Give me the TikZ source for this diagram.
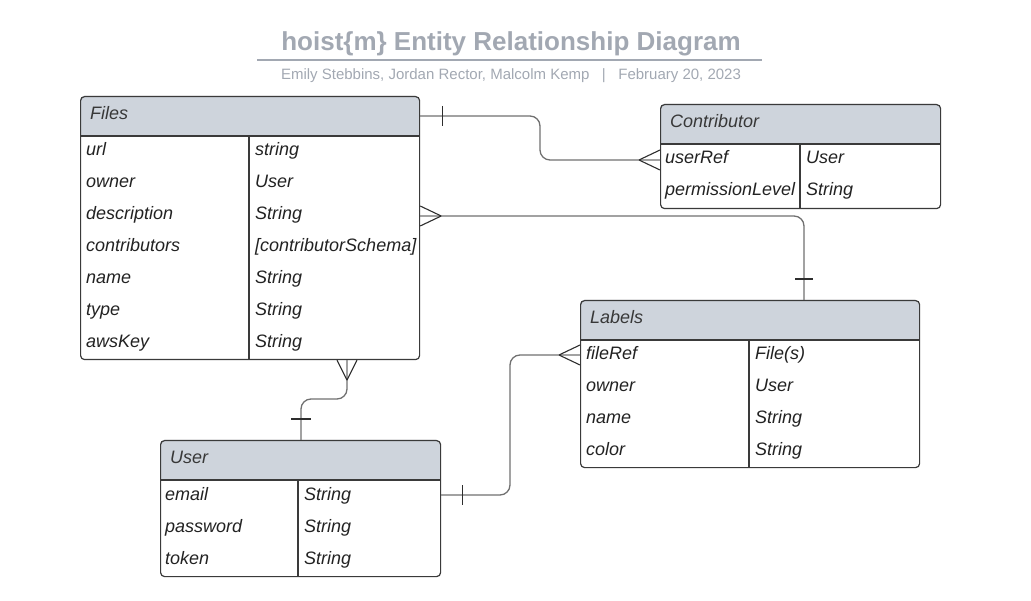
\documentclass[tikz,border=0pt]{standalone}
\usepackage{fontspec}
\setmainfont{Liberation Sans}
\definecolor{hdr}{HTML}{CED4DC}
\definecolor{bord}{HTML}{3A3A3A}
\definecolor{conn}{HTML}{707070}
\definecolor{mark}{HTML}{2E2E2E}
\definecolor{ttl}{HTML}{A2A8B2}
\definecolor{txt}{HTML}{222222}
\tikzset{
  tbox/.style={draw=bord, line width=1.2pt, rounded corners=4pt, anchor=north west, inner sep=0pt},
  cell/.style={anchor=base west, inner sep=0pt, font=\fontsize{18}{20}\selectfont\itshape, text=txt},
  hcell/.style={cell, text=txt!90},
  divline/.style={draw=bord, line width=1.1pt},
  connline/.style={draw=conn, line width=1.3pt, rounded corners=10pt},
  endmark/.style={draw=mark, line width=1.1pt},
}
\begin{document}
\begin{tikzpicture}[x=1pt,y=-1pt]
\useasboundingbox (0,0) rectangle (1031,601);
% Title
\node[anchor=base, inner sep=0pt, text=ttl, font=\fontsize{26}{30}\selectfont\bfseries] (title) at (511,51) {hoist\{m\} Entity Relationship Diagram};
\draw[draw=ttl, line width=2pt] (257,60) -- (762,60);
\node[anchor=base, inner sep=0pt, text=ttl, font=\fontsize{15}{18}\selectfont] (subtitle) at (511,80) {Emily Stebbins, Jordan Rector, Malcolm Kemp \ \ | \ \ February 20, 2023};

% ---------- Files ----------
\fill[hdr, rounded corners=4pt] (80,96) rectangle (419,136);
\fill[hdr] (80,126) rectangle (419,136);
\draw[divline] (80,136) -- (419,136);
\draw[divline] (249,136) -- (249,359);
\node[tbox, minimum width=339pt, minimum height=263pt] (files) at (80,96) {};
\node[hcell] (filesH) at (90,120) {Files};
\foreach \a/\b [count=\i from 0] in {url/string, owner/User, description/String, contributors/[contributorSchema], name/String, type/String, awsKey/String}{
  \node[cell] (filesA\i) at (86,156+32*\i) {\a};
  \node[cell] (filesB\i) at (255,156+32*\i) {\b};
}

% ---------- Contributor ----------
\fill[hdr, rounded corners=4pt] (660,104) rectangle (940,144);
\fill[hdr] (660,134) rectangle (940,144);
\draw[divline] (660,144) -- (940,144);
\draw[divline] (800,144) -- (800,208);
\node[tbox, minimum width=280pt, minimum height=104pt] (contrib) at (660,104) {};
\node[hcell] (contribH) at (670,128) {Contributor};
\foreach \a/\b [count=\i from 0] in {userRef/User, permissionLevel/String}{
  \node[cell] (contribA\i) at (665,164+32*\i) {\a};
  \node[cell] (contribB\i) at (806,164+32*\i) {\b};
}

% ---------- Labels ----------
\fill[hdr, rounded corners=4pt] (580,300) rectangle (919,340);
\fill[hdr] (580,330) rectangle (919,340);
\draw[divline] (580,340) -- (919,340);
\draw[divline] (749,340) -- (749,467);
\node[tbox, minimum width=339pt, minimum height=167pt] (labels) at (580,300) {};
\node[hcell] (labelsH) at (590,324) {Labels};
\foreach \a/\b [count=\i from 0] in {fileRef/File(s), owner/User, name/String, color/String}{
  \node[cell] (labelsA\i) at (586,360+32*\i) {\a};
  \node[cell] (labelsB\i) at (755,360+32*\i) {\b};
}

% ---------- User ----------
\fill[hdr, rounded corners=4pt] (160,440) rectangle (440,480);
\fill[hdr] (160,470) rectangle (440,480);
\draw[divline] (160,480) -- (440,480);
\draw[divline] (298,480) -- (298,576);
\node[tbox, minimum width=280pt, minimum height=136pt] (user) at (160,440) {};
\node[hcell] (userH) at (170,464) {User};
\foreach \a/\b [count=\i from 0] in {email/String, password/String, token/String}{
  \node[cell] (userA\i) at (165,500+32*\i) {\a};
  \node[cell] (userB\i) at (304,500+32*\i) {\b};
}

% ---------- Connector endpoints ----------
\coordinate (fC) at (files.east |- 0,116);
\coordinate (cF) at (contrib.west |- 0,160);
\coordinate (fL) at (files.east |- 0,216);
\coordinate (lF) at (804,0 |- labels.north);
\coordinate (fU) at (347,0 |- files.south);
\coordinate (uF) at (301,0 |- user.north);
\coordinate (uL) at (user.east |- 0,495);
\coordinate (lU) at (labels.west |- 0,355);

% Files -- Contributor
\draw[connline] (fC) -- (540,116) -- (540,160) -- (cF);
\draw[endmark] ([xshift=22pt]fC) ++(0,-10) -- ++(0,20);
\draw[endmark] ([xshift=-21pt]cF) -- ++(21,-10) ([xshift=-21pt]cF) -- ++(21,10);

% Files -- Labels
\draw[connline] (fL) -- (804,216) -- (lF);
\draw[endmark] ([xshift=21pt]fL) -- ++(-21,-10) ([xshift=21pt]fL) -- ++(-21,10);
\draw[endmark] ([yshift=21pt]lF) ++(-9,0) -- ++(18,0);

% Files -- User
\draw[connline] (fU) -- (347,399) -- (301,399) -- (uF);
\draw[endmark] ([yshift=-20pt]fU) -- ++(-10,-20) ([yshift=-20pt]fU) -- ++(10,-20);
\draw[endmark] ([yshift=21pt]uF) ++(-10,0) -- ++(20,0);

% User -- Labels
\draw[connline] (uL) -- (510,495) -- (510,355) -- (lU);
\draw[endmark] ([xshift=21pt]uL) ++(0,-10) -- ++(0,20);
\draw[endmark] ([xshift=-21pt]lU) -- ++(21,-10) ([xshift=-21pt]lU) -- ++(21,10);
\end{tikzpicture}
\end{document}
